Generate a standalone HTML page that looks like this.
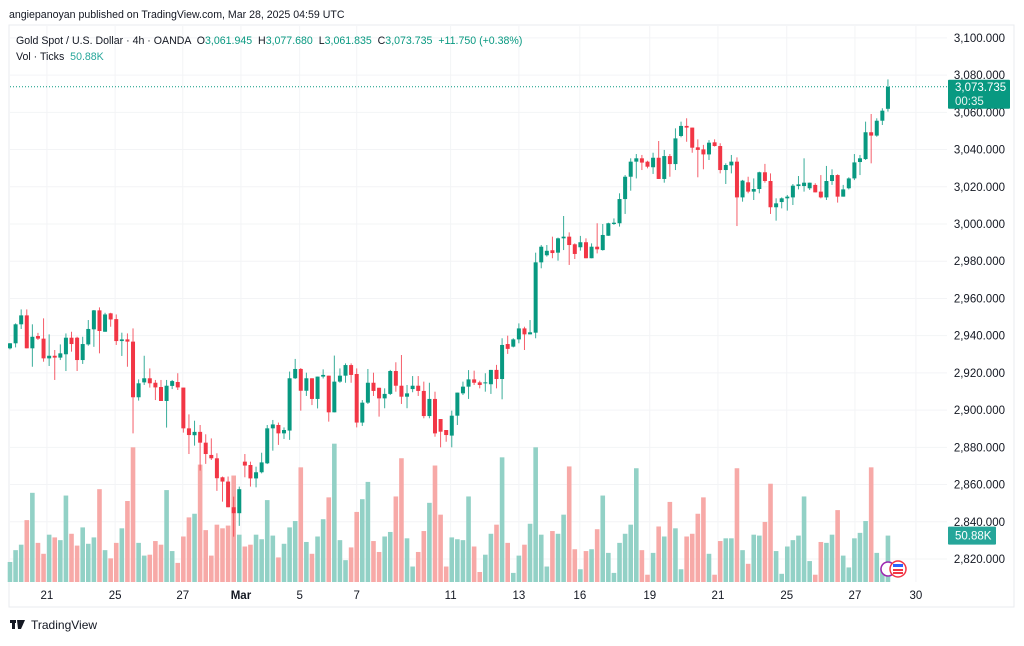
<!DOCTYPE html>
<html><head><meta charset="utf-8">
<style>
html,body{margin:0;padding:0;background:#fff;}
body{width:1024px;height:641px;overflow:hidden;font-family:"Liberation Sans",sans-serif;}
svg text{font-family:"Liberation Sans",sans-serif;}
</style></head>
<body>
<svg id="chart" width="1024" height="641" viewBox="0 0 1024 641" xmlns="http://www.w3.org/2000/svg">
<rect x="0" y="0" width="1024" height="641" fill="#ffffff"/>
<text x="9" y="18" font-size="10.6" fill="#131722">angiepanoyan published on TradingView.com, Mar 28, 2025 04:59 UTC</text>
<rect x="9" y="25" width="1005" height="582" fill="none" stroke="#e9ebef" stroke-width="1"/>
<g id="grid"></g>
<g id="vol"></g>
<g id="candles"></g>
<g id="axes"></g>
<g>
<text x="16" y="44" font-size="10.6" fill="#131722" xml:space="preserve">Gold Spot / U.S. Dollar · 4h · OANDA  O<tspan fill="#089981">3,061.945</tspan>  H<tspan fill="#089981">3,077.680</tspan>  L<tspan fill="#089981">3,061.835</tspan>  C<tspan fill="#089981">3,073.735</tspan>  <tspan fill="#089981">+11.750 (+0.38%)</tspan></text>
<text x="16" y="60" font-size="10.6" fill="#131722" xml:space="preserve">Vol · Ticks  <tspan fill="#26a69a">50.88K</tspan></text>
</g>
<g>
<rect x="10" y="620" width="6" height="3" fill="#131722"/><rect x="12" y="620" width="3" height="9" fill="#131722"/><path d="M17 620 L25 620 L21 629 L18 629 Z" fill="#131722"/>
<text x="31" y="629" font-size="12" fill="#131722">TradingView</text>
</g>
</svg>
<script>
// Candles: open, high, low, close
const opens=[2933.2,2935.9,2946.1,2950.9,2933.2,2939.8,2938.4,2927.8,2929.2,2928.2,2930.0,2938.9,2938.9,2926.9,2935.3,2943.4,2953.6,2942.1,2952.0,2948.9,2937.1,2938.0,2936.8,2906.9,2914.9,2917.1,2914.7,2912.4,2904.9,2913.0,2915.1,2912.1,2890.2,2886.5,2888.3,2882.5,2875.9,2874.1,2863.9,2861.6,2847.8,2844.6,
2872.3,2870.5,2863.3,2866.6,2871.4,2890.2,2892.0,2887.5,2889.0,2917.1,2922.1,2910.4,2917.1,2906.0,2918.0,2918.5,2898.8,2915.3,2918.5,2924.2,2919.4,2893.3,2904.0,2914.7,2912.0,2906.3,2908.7,2921.0,2913.1,2907.2,2911.3,2913.1,2910.3,2896.8,2906.0,2895.2,2889.3,2886.3,2897.0,2909.0,2912.6,2916.5,2914.9,2914.4,
2913.9,2921.6,2916.7,2935.5,2934.1,2938.0,2943.9,2940.7,2941.6,2979.4,2983.2,2985.9,2984.6,2992.3,2993.2,2989.1,2987.5,2990.2,2981.6,2987.8,2986.0,2993.7,3000.0,3000.4,3013.4,3025.4,3033.5,3035.3,3033.5,3030.5,3035.6,3024.2,3036.5,3032.2,3047.3,3052.7,3051.8,3041.2,3040.1,3037.4,3043.9,
3041.9,3029.0,3031.5,3033.5,3014.3,3022.4,3017.4,3018.8,3027.8,3023.1,3009.0,3011.8,3013.8,3014.3,3020.4,3020.4,3019.2,3021.0,3017.4,3014.3,3023.1,3026.3,3014.7,3019.2,3024.5,3033.3,3034.9,3049.3,3047.5,3055.5,3061.9];
const highs=[2936.0,2946.6,2954.1,2954.1,2946.1,2941.5,2949.3,2940.7,2932.3,2935.3,2941.2,2942.1,2939.4,2939.4,2948.4,2953.8,2955.2,2952.3,2952.3,2951.4,2941.6,2941.2,2943.9,2916.5,2929.2,2922.4,2916.2,2916.2,2916.2,2916.2,2919.8,2912.1,2897.7,2894.3,2892.0,2887.0,2884.8,2876.8,2864.3,2864.3,2853.5,2858.9,
2876.4,2872.3,2869.6,2877.1,2892.0,2894.7,2893.3,2890.7,2920.7,2927.5,2922.6,2920.1,2917.1,2918.0,2921.9,2918.5,2929.3,2922.4,2925.1,2925.1,2922.4,2905.4,2922.1,2920.1,2912.0,2911.7,2921.6,2925.7,2929.6,2913.5,2918.3,2918.3,2915.3,2914.7,2909.9,2895.2,2889.3,2899.7,2909.4,2915.3,2921.5,2921.2,2915.8,2919.8,
2921.6,2924.3,2938.6,2940.0,2938.6,2946.6,2944.8,2948.4,2984.6,2988.7,2988.7,2993.2,2992.7,3004.3,2995.5,2989.6,2993.6,2992.3,2989.6,3000.4,3000.0,3000.7,3003.0,3016.5,3026.3,3035.3,3037.6,3037.1,3034.0,3038.3,3044.6,3039.8,3037.6,3051.4,3055.0,3056.8,3051.8,3045.5,3042.5,3045.1,3045.5,
3043.4,3032.6,3037.1,3035.8,3023.7,3025.4,3024.5,3028.1,3032.3,3027.2,3013.8,3014.3,3015.6,3021.5,3025.8,3035.3,3022.2,3021.9,3026.3,3031.2,3029.4,3026.7,3021.0,3025.1,3037.6,3037.1,3055.0,3059.1,3056.8,3062.2,3077.7];
const lows=[2932.6,2933.7,2943.6,2933.2,2923.3,2937.7,2926.0,2923.7,2916.2,2926.9,2921.0,2931.4,2921.0,2924.8,2934.6,2934.0,2930.5,2942.1,2944.8,2935.0,2929.1,2923.3,2887.5,2905.1,2913.5,2912.1,2905.4,2904.9,2890.6,2911.3,2910.8,2887.9,2876.4,2880.9,2867.5,2871.1,2873.2,2856.6,2850.8,2847.8,2832.0,2837.8,
2863.9,2858.9,2858.5,2866.0,2871.0,2878.2,2881.3,2884.5,2884.0,2916.7,2899.7,2907.6,2902.7,2900.9,2917.0,2893.8,2898.8,2914.7,2914.7,2914.7,2890.7,2891.5,2903.3,2907.6,2896.5,2901.0,2908.1,2909.9,2903.3,2901.0,2909.6,2907.6,2895.6,2895.6,2885.7,2880.0,2883.0,2880.0,2892.0,2908.1,2906.0,2913.5,2911.7,2909.9,
2908.7,2911.7,2905.8,2930.2,2933.7,2935.9,2932.3,2940.7,2938.6,2976.2,2982.5,2981.6,2980.3,2986.0,2978.0,2981.2,2985.7,2981.6,2981.6,2984.2,2985.7,2993.6,2999.5,2998.6,3005.4,3017.9,3024.5,3029.0,3029.9,3026.9,3024.2,3022.2,3025.4,3029.0,3046.6,3044.2,3038.3,3025.1,3029.4,3034.4,3041.6,
3027.2,3021.5,3027.2,2998.9,3012.0,3016.5,3012.9,3016.5,3022.2,3005.4,3001.8,3008.4,3007.2,3010.2,3018.6,3017.4,3018.3,3017.0,3013.8,3012.9,3021.0,3011.5,3014.7,3018.6,3023.6,3026.3,3034.4,3032.6,3046.9,3053.2,3060.4];
const closes=[2935.9,2946.1,2950.9,2933.2,2939.4,2938.4,2927.8,2929.2,2928.2,2930.5,2938.9,2935.5,2926.9,2935.5,2943.6,2953.6,2942.5,2951.4,2948.7,2937.1,2938.0,2936.8,2906.9,2914.4,2917.1,2914.4,2912.2,2904.9,2913.1,2915.6,2912.2,2890.2,2886.6,2888.3,2882.5,2876.4,2874.1,2863.4,2861.6,2847.8,2844.6,2857.5,
2870.2,2863.3,2866.6,2871.9,2890.2,2892.3,2887.5,2889.3,2917.1,2922.1,2910.4,2917.1,2906.0,2918.0,2918.9,2898.8,2915.3,2918.5,2924.2,2918.9,2893.3,2904.0,2914.7,2910.3,2906.3,2908.7,2921.0,2913.1,2907.2,2909.0,2913.1,2910.3,2896.8,2906.0,2887.5,2888.4,2886.6,2897.0,2909.4,2912.6,2916.5,2914.7,2913.5,2914.9,
2921.6,2916.7,2935.0,2932.9,2938.0,2943.9,2940.7,2941.8,2979.4,2987.8,2985.6,2984.4,2992.3,2993.2,2988.7,2983.9,2990.2,2981.6,2987.8,2986.4,2994.1,3000.4,3000.7,3013.4,3025.4,3033.5,3035.3,3033.0,3030.8,3035.6,3024.2,3036.5,3032.2,3046.0,3052.7,3051.8,3041.0,3039.8,3037.4,3043.7,3041.9,
3029.0,3031.7,3033.5,3014.3,3023.3,3017.4,3018.8,3027.8,3023.1,3009.0,3011.1,3013.8,3014.7,3020.6,3021.3,3022.2,3022.2,3017.0,3014.3,3023.1,3026.3,3014.7,3018.6,3024.5,3033.1,3035.3,3049.3,3047.5,3055.5,3060.9,3073.7];
const volumes=[22,35,41,68,98,43,31,52,49,46,95,53,40,60,42,49,102,35,26,43,59,89,148,43,29,30,45,41,101,34,21,50,71,75,129,57,29,63,59,62,117,52,
39,41,52,47,90,51,27,42,60,67,126,44,31,50,69,93,152,46,24,38,77,91,110,45,33,50,55,94,136,48,17,33,56,87,128,74,17,49,47,46,94,39,11,30,
53,63,137,43,10,29,41,64,148,52,17,56,53,74,127,36,14,34,36,58,95,32,10,43,53,63,125,35,8,32,61,50,88,59,14,50,53,75,93,31,8,
45,48,48,125,35,20,52,51,66,108,34,9,39,46,51,94,23,8,44,43,52,79,29,16,48,54,67,126,32,15,51];
const yTicks=[3100,3080,3060,3040,3020,3000,2980,2960,2940,2920,2900,2880,2860,2840,2820];
const xTickLabels=["21","25","27","Mar","5","7","11","13","16","19","21","25","27","30"];
const xTickIndex=[6.6,18.8,30.9,41.3,51.8,62,78.8,91,101.9,114.4,126.6,138.9,151.1,162];
const lastPrice=3073.735;

const NS="http://www.w3.org/2000/svg";
const X0=10, STEP=5.592;
function xPos(i){return X0+i*STEP;}
function yPrice(p){return 224+(3000-p)*1.861;}
const VBASE=582, VPX=1.0;
function yVol(v){return VBASE-v*VPX*0.91;}
function mk(tag,attrs,parent){const e=document.createElementNS(NS,tag);for(const k in attrs)e.setAttribute(k,attrs[k]);parent.appendChild(e);return e;}

const grid=document.getElementById('grid');
const axes=document.getElementById('axes');
yTicks.forEach((t)=>{
  const y=yPrice(t);
  const gl=mk('line',{x1:10,x2:947,y1:y,y2:y,stroke:'#f3f4f6','stroke-width':1},grid);
  
  
  const tx=mk('text',{x:1005,y:y+4,'font-size':11.5,fill:'#131722','text-anchor':'end'},axes);
  tx.textContent=t.toLocaleString('en-US',{minimumFractionDigits:3});
  
  
});
xTickLabels.forEach((lab,k)=>{
  const x=xPos(xTickIndex[k]);
  const gl=mk('line',{x1:x,x2:x,y1:26,y2:582,stroke:'#f3f4f6','stroke-width':1},grid);
  
  
  const tx=mk('text',{x:x,y:599,'font-size':11.5,fill:'#131722','text-anchor':'middle','font-weight':lab==='Mar'?'bold':'normal'},axes);
  tx.textContent=lab;
  
  
});

const vol=document.getElementById('vol');
volumes.forEach((v,i)=>{
  const up=closes[i]>=opens[i];
  const y=yVol(v);
  const r=mk('rect',{x:xPos(i)-2.3,y:y,width:4.6,height:VBASE-y,fill:up?'#92d1c6':'#f7a9a7'},vol);
  
  
});

const cg=document.getElementById('candles');
opens.forEach((o,i)=>{
  const c=closes[i],up=c>=o,col=up?'#089981':'#f23645';
  const x=xPos(i);
  const w=mk('line',{x1:x,x2:x,y1:yPrice(highs[i]),y2:yPrice(lows[i]),stroke:col,'stroke-width':1,'stroke-opacity':0.8},cg);
  
  
  const top=yPrice(Math.max(o,c)),bot=yPrice(Math.min(o,c));
  const b=mk('rect',{x:x-2,y:top,width:4,height:Math.max(1,bot-top),fill:col},cg);
  
  
});

const ly=yPrice(lastPrice);
const pl=mk('line',{x1:10,x2:947,y1:ly,y2:ly,stroke:'#089981','stroke-width':1,'stroke-dasharray':'1,2'},axes);


const pb=mk('rect',{x:948,y:ly-7,width:62,height:29,fill:'#089981',rx:1},axes);


const pt=mk('text',{x:955,y:ly+4,'font-size':11.5,fill:'#ffffff'},axes);
pt.textContent=lastPrice.toLocaleString('en-US',{minimumFractionDigits:3});


const ct=mk('text',{x:955,y:ly+18,'font-size':11.5,fill:'#e8f5f2'},axes);
ct.textContent='00:35';


const vy=yVol(volumes[volumes.length-1]);
const vb=mk('rect',{x:948,y:vy-9,width:48,height:18,fill:'#26a69a',rx:1},axes);


const vt=mk('text',{x:955,y:vy+4,'font-size':11.5,fill:'#ffffff'},axes);
vt.textContent='50.88K';


const ic1=mk('circle',{cx:888,cy:569,r:7,fill:'#fff',stroke:'#9c27b0','stroke-width':1.5},axes);


const ic2=mk('circle',{cx:898,cy:569,r:8,fill:'#fff',stroke:'#f23645','stroke-width':1.5},axes);


mk('rect',{x:893,y:564,width:10,height:3,fill:'#2962ff'},axes);
mk('rect',{x:893,y:569,width:10,height:2,fill:'#f23645'},axes);
mk('rect',{x:893,y:572,width:10,height:2,fill:'#f23645'},axes);
</script>
</body></html>
